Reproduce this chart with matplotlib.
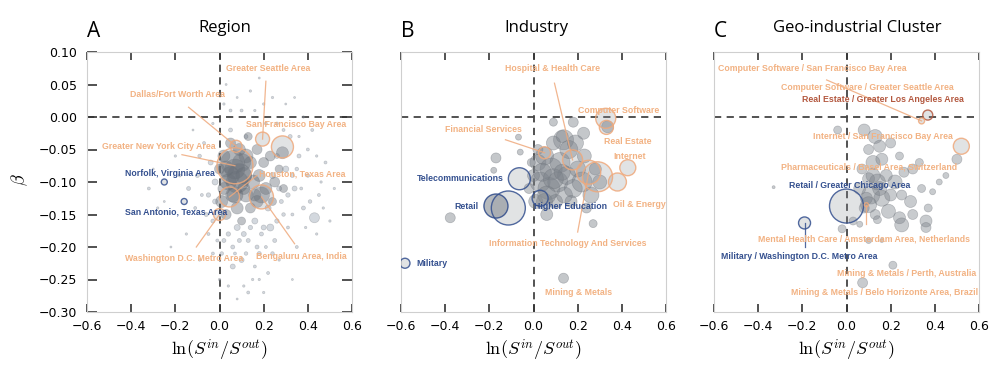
import numpy as np
import matplotlib
matplotlib.use("Agg")
import matplotlib.pyplot as plt

plt.rcParams["mathtext.fontset"] = "cm"

# ---- colours
GRAY_FC = "#8b9097"
GRAY_EC = "#70757c"
SLATE = "#8391a3"
ORANGE = "#f2b283"
ORANGE_LN = "#efa97c"
BLUE = "#34508f"
BROWN = "#b3583f"

# ---- data: (x, y, bubble radius)
# Panel A - region
region_bg = [
    (-0.32, -0.11, 1.5), (-0.28, -0.14, 1.2), (-0.20, -0.06, 1.2), (-0.12, -0.02, 1.0),
    (-0.10, -0.09, 2.0), (-0.08, -0.12, 1.5), (-0.06, -0.15, 2.0), (-0.05, -0.18, 1.5),
    (-0.04, -0.07, 2.5), (-0.03, -0.21, 1.5), (-0.02, -0.10, 3.0), (-0.02, -0.13, 2.5),
    (0.00, -0.25, 1.2), (0.02, 0.02, 1.2), (0.03, 0.05, 1.0), (0.05, -0.02, 2.0),
    (0.06, -0.20, 2.0), (0.08, -0.17, 3.0), (0.10, -0.22, 2.5), (0.10, 0.01, 1.5),
    (0.12, -0.03, 2.0), (0.13, -0.19, 2.0), (0.14, 0.04, 1.2), (0.15, -0.25, 1.2),
    (0.16, -0.16, 3.0), (0.18, -0.21, 2.0), (0.20, -0.17, 2.5), (0.22, -0.14, 3.0),
    (0.24, -0.09, 3.0), (0.25, -0.19, 2.0), (0.26, -0.06, 2.5), (0.28, -0.13, 2.0),
    (0.30, -0.08, 3.0), (0.31, -0.17, 1.5), (0.32, -0.03, 2.0), (0.34, -0.11, 2.5),
    (0.35, -0.20, 1.5), (0.36, -0.06, 2.0), (0.38, -0.14, 2.0), (0.40, -0.09, 1.8),
    (0.42, -0.02, 1.5), (0.43, -0.155, 5.0), (0.45, -0.12, 1.5), (0.48, -0.07, 1.5),
    (0.50, -0.16, 1.2), (0.52, -0.11, 1.2), (0.24, 0.03, 1.2), (0.30, 0.02, 1.0),
    (0.38, 0.00, 1.2), (0.20, -0.27, 1.2), (0.08, -0.28, 1.0), (-0.15, -0.18, 1.2),
    (-0.22, -0.20, 1.0), (0.06, -0.23, 2.5), (0.13, -0.27, 1.5), (0.22, -0.24, 1.5),
    (0.27, -0.22, 1.2), (0.33, -0.25, 1.0), (-0.07, -0.04, 1.5), (0.18, 0.06, 1.0),
    (0.26, -0.01, 1.5), (0.40, -0.05, 1.5), (0.44, -0.18, 1.2), (0.02, -0.19, 2.0),
    (0.17, -0.20, 2.0), (0.23, -0.17, 3.5), (0.11, -0.26, 1.2), (-0.09, -0.22, 1.2),
    (-0.18, -0.09, 1.5), (-0.14, -0.11, 2.0), (-0.11, -0.14, 1.5), (-0.09, -0.06, 1.8),
    (-0.05, -0.12, 2.2), (-0.03, -0.16, 2.0), (-0.01, -0.19, 1.5), (0.01, -0.21, 1.8),
    (0.04, -0.18, 2.2), (0.07, -0.21, 1.5), (0.09, -0.19, 2.0), (0.11, -0.18, 2.5),
    (0.12, -0.21, 1.8), (0.14, -0.17, 2.2), (0.16, -0.23, 1.5), (0.19, -0.18, 2.0),
    (0.21, -0.20, 1.5), (0.24, -0.21, 1.8), (0.26, -0.16, 2.2), (0.27, -0.11, 2.5),
    (0.29, -0.15, 1.8), (0.31, -0.12, 2.2), (0.33, -0.09, 2.0), (0.33, -0.15, 1.5),
    (0.35, -0.08, 1.8), (0.37, -0.11, 1.5), (0.39, -0.17, 1.2), (0.41, -0.13, 1.8),
    (0.46, -0.10, 1.2), (0.36, -0.03, 1.2), (0.29, -0.02, 1.5), (0.21, -0.01, 1.5),
    (0.16, 0.01, 1.2), (0.08, 0.03, 1.0), (0.05, 0.01, 1.5), (0.20, 0.02, 1.2),
    (-0.03, -0.01, 1.2), (0.34, 0.03, 1.0), (0.44, -0.06, 1.2), (0.47, -0.14, 1.2),
    (-0.25, -0.13, 1.0), (-0.30, -0.08, 1.0), (0.04, -0.26, 1.2), (0.18, -0.25, 1.2),
]
region_cluster = [
    (0.02, -0.06, 6), (0.04, -0.10, 8), (0.06, -0.12, 7), (0.09, -0.05, 6),
    (0.11, -0.09, 8), (0.12, -0.12, 7), (0.14, -0.07, 6), (0.15, -0.10, 7),
    (0.17, -0.05, 5), (0.18, -0.09, 6), (0.20, -0.07, 5), (0.21, -0.11, 6),
    (0.23, -0.06, 5), (0.25, -0.10, 5), (0.27, -0.08, 4), (0.29, -0.11, 4),
    (0.01, -0.13, 6), (0.03, -0.15, 5), (0.08, -0.14, 6), (0.10, -0.16, 4),
    (0.14, -0.14, 5), (0.17, -0.13, 6), (0.00, -0.08, 5), (0.05, -0.04, 5),
    (0.13, -0.03, 4), (0.07, -0.08, 10), (0.10, -0.07, 9), (0.05, -0.09, 9),
    (0.285, -0.055, 6), (0.08, -0.10, 11), (0.19, -0.12, 8), (0.24, -0.13, 4),
    (0.06, -0.07, 12), (0.09, -0.09, 12), (0.03, -0.08, 8), (0.12, -0.06, 7),
    (0.16, -0.12, 6), (0.02, -0.11, 6), (0.07, -0.12, 8), (0.11, -0.11, 6),
]
region_hl = [
    ("Greater Seattle Area", 0.195, -0.034, 7, "o"),
    ("Dallas/Fort Worth Area", 0.075, -0.045, 6, "o"),
    ("San Francisco Bay Area", 0.285, -0.046, 11, "o"),
    ("Greater New York City Area", 0.07, -0.075, 18, "o"),
    ("Houston, Texas Area", 0.045, -0.123, 10, "o"),
    ("Bengaluru Area, India", 0.19, -0.123, 12, "o"),
    ("Washington D.C. Metro Area", 0.00, -0.150, 6, "o"),
    ("Norfolk, Virginia Area", -0.25, -0.100, 3, "b"),
    ("San Antonio, Texas Area", -0.16, -0.130, 3, "b"),
]
# label (x, y), leader line start, colour key
region_lab = {
    "Greater Seattle Area": (0.03, 0.075, (0.21, 0.055), "o"),
    "Dallas/Fort Worth Area": (-0.405, 0.035, (-0.14, 0.015), "o"),
    "San Francisco Bay Area": (0.12, -0.011, None, "o"),
    "Greater New York City Area": (-0.53, -0.045, (-0.17, -0.058), "o"),
    "Norfolk, Virginia Area": (-0.43, -0.087, None, "b"),
    "Houston, Texas Area": (0.18, -0.087, (0.17, -0.09), "o"),
    "San Antonio, Texas Area": (-0.43, -0.146, None, "b"),
    "Washington D.C. Metro Area": (-0.43, -0.218, (-0.105, -0.2), "o"),
    "Bengaluru Area, India": (0.164, -0.215, (0.34, -0.195), "o"),
}

# Panel B - industry
industry_bg = [
    (0.09, -0.008, 4), (0.18, -0.008, 5), (0.227, -0.025, 6), (0.136, -0.035, 10),
    (-0.068, -0.031, 3), (-0.06, -0.054, 3), (-0.17, -0.063, 5), (-0.18, -0.082, 3),
    (-0.377, -0.155, 5), (0.27, -0.164, 4), (0.336, -0.015, 6),
    (0.02, -0.07, 8), (0.05, -0.06, 9), (0.08, -0.08, 11), (0.12, -0.07, 10),
    (0.16, -0.05, 9), (0.19, -0.04, 8), (0.03, -0.10, 10), (0.07, -0.11, 11),
    (0.11, -0.10, 10), (0.15, -0.09, 9), (0.20, -0.08, 8), (0.23, -0.06, 7),
    (0.01, -0.13, 7), (0.05, -0.13, 8), (0.10, -0.13, 7), (0.14, -0.12, 8),
    (0.18, -0.11, 9), (0.22, -0.10, 10), (0.26, -0.12, 8), (0.28, -0.08, 6),
    (0.00, -0.09, 6), (-0.02, -0.11, 5), (0.09, -0.04, 7), (0.13, -0.03, 6),
    (0.17, -0.13, 6), (0.24, -0.14, 5), (0.06, -0.15, 6), (0.02, -0.05, 5),
    (-0.01, -0.07, 4), (0.30, -0.10, 7), (-0.17, -0.137, 12), (0.136, -0.248, 5),
    (0.04, -0.085, 9), (0.09, -0.095, 10), (0.13, -0.085, 8), (0.06, -0.12, 9),
]
industry_hl = [
    ("Hospital & Health Care", 0.177, -0.066, 10, "o"),
    ("Computer Software", 0.327, -0.002, 10, "o"),
    ("Real Estate", 0.33, -0.016, 7, "o"),
    ("Financial Services", 0.05, -0.055, 6, "o"),
    ("Internet", 0.427, -0.078, 8, "o"),
    ("Oil & Energy", 0.29, -0.092, 15, "o"),
    ("Oil & Energy 2", 0.38, -0.100, 9, "o"),
    ("Information Technology And Services", 0.25, -0.085, 12, "o"),
    ("Telecommunications", -0.064, -0.095, 11, "b"),
    ("Retail", -0.114, -0.140, 17, "b"),
    ("Retail 2", -0.17, -0.137, 12, "b"),
    ("Higher Education", 0.03, -0.125, 8, "b"),
    ("Military", -0.582, -0.225, 5, "b"),
]
industry_lab = {
    "Hospital & Health Care": (-0.13, 0.075, (0.095, 0.052), "o"),
    "Computer Software": (0.20, 0.01, None, "o"),
    "Financial Services": (-0.40, -0.020, (-0.127, -0.035), "o"),
    "Real Estate": (0.32, -0.037, None, "o"),
    "Internet": (0.36, -0.061, None, "o"),
    "Telecommunications": (-0.53, -0.095, None, "b"),
    "Retail": (-0.36, -0.138, None, "b"),
    "Higher Education": (0.0, -0.138, None, "b"),
    "Oil & Energy": (0.36, -0.135, None, "o"),
    "Information Technology And Services": (-0.20, -0.195, (0.20, -0.177), "o"),
    "Military": (-0.53, -0.225, None, "b"),
    "Mining & Metals": (0.05, -0.27, None, "o"),
}

# Panel C - geo-industrial cluster
cluster_bg = [
    (0.08, -0.02, 6), (0.13, -0.03, 7), (0.10, -0.05, 5), (0.15, -0.045, 6),
    (0.20, -0.04, 5), (0.24, -0.06, 4), (0.12, -0.07, 7), (0.16, -0.065, 6),
    (0.07, -0.08, 5), (0.10, -0.095, 6), (0.14, -0.10, 8), (0.18, -0.09, 6),
    (0.22, -0.10, 7), (0.26, -0.085, 5), (0.30, -0.08, 5), (0.33, -0.07, 4),
    (0.06, -0.11, 6), (0.11, -0.12, 9), (0.16, -0.125, 8), (0.20, -0.12, 6),
    (0.25, -0.12, 5), (0.29, -0.13, 6), (0.34, -0.11, 4), (0.08, -0.14, 5),
    (0.13, -0.15, 5), (0.19, -0.145, 7), (0.24, -0.155, 6), (0.30, -0.15, 5),
    (0.36, -0.16, 6), (0.37, -0.14, 4), (0.42, -0.10, 3), (0.45, -0.09, 3),
    (0.03, -0.16, 4), (0.06, -0.165, 3), (-0.04, -0.02, 4), (-0.02, -0.172, 4),
    (0.10, -0.19, 3), (0.16, -0.19, 2), (0.25, -0.166, 7), (0.36, -0.17, 5),
    (0.14, -0.158, 4), (0.50, -0.065, 5), (-0.33, -0.108, 1.5), (0.39, -0.115, 3),
    (0.12, -0.09, 7), (0.09, -0.125, 6), (0.15, -0.11, 7), (0.10, -0.135, 8),
    (0.21, -0.228, 4), (0.073, -0.255, 5),
]
cluster_hl = [
    ("Real Estate / Greater Los Angeles Area", 0.368, 0.003, 5, "r"),
    ("Computer Software / San Francisco Bay Area", 0.34, -0.006, 3, "o"),
    ("Internet / San Francisco Bay Area", 0.52, -0.045, 8, "o"),
    ("Retail / Greater Chicago Area", 0.0, -0.137, 17, "b"),
    ("Military / Washington D.C. Metro Area", -0.19, -0.163, 6, "b"),
    ("Mental Health Care / Amsterdam Area, Netherlands", 0.09, -0.135, 2, "o"),
]
cluster_lab = {
    "Computer Software / San Francisco Bay Area": (-0.58, 0.075, (-0.09, 0.057), "o"),
    "Computer Software / Greater Seattle Area": (-0.295, 0.045, None, "o"),
    "Real Estate / Greater Los Angeles Area": (-0.20, 0.027, None, "r"),
    "Internet / San Francisco Bay Area": (-0.15, -0.030, None, "o"),
    "Pharmaceuticals / Basel Area, Switzerland": (-0.295, -0.077, None, "o"),
    "Retail / Greater Chicago Area": (-0.26, -0.105, None, "b"),
    "Mental Health Care / Amsterdam Area, Netherlands": (-0.40, -0.188, (0.09, -0.165), "o"),
    "Military / Washington D.C. Metro Area": (-0.57, -0.215, (-0.19, -0.2), "b"),
    "Mining & Metals / Perth, Australia": (-0.045, -0.240, None, "o"),
    "Mining & Metals / Belo Horizonte Area, Brazil": (-0.25, -0.270, None, "o"),
}

xticks = [-0.6, -0.4, -0.2, 0.0, 0.2, 0.4, 0.6]
yticks = [0.10, 0.05, 0.00, -0.05, -0.10, -0.15, -0.20, -0.25, -0.30]
titles = ["Region", "Industry", "Geo-industrial Cluster"]
letters = ["A", "B", "C"]

EDGE = {"o": ORANGE_LN, "b": BLUE, "r": BROWN}
TXT = {"o": ORANGE, "b": BLUE, "r": BROWN}


def size(r):
    return (1.44 * np.asarray(r, dtype=float)) ** 2


def draw_bg(ax, pts, fc, alpha):
    a = np.array(pts)
    ax.scatter(a[:, 0], a[:, 1], s=size(a[:, 2]), c=fc, alpha=alpha,
               edgecolors=GRAY_EC, linewidths=0.5, zorder=2)


def draw_hl(ax, items):
    for name, x, y, r, k in items:
        ax.scatter([x], [y], s=size(r), facecolors=GRAY_FC, alpha=0.25,
                   edgecolors="none", zorder=3)
        ax.scatter([x], [y], s=size(r), facecolors="none", alpha=0.85,
                   edgecolors=EDGE[k], linewidths=1.0, zorder=4)


def draw_labels(ax, labs, hl):
    pos = {h[0]: (h[1], h[2]) for h in hl}
    for name, (lx, ly, start, k) in labs.items():
        ax.text(lx, ly, name, color=TXT[k], fontsize=6.3, fontweight="bold",
                family="Liberation Sans", ha="left", va="center", zorder=6)
        if start is not None and name in pos:
            px, py = pos[name]
            ax.plot([start[0], px], [start[1], py], color=EDGE[k], lw=0.9,
                    alpha=0.85, zorder=5)


fig = plt.figure(figsize=(10, 3.81), dpi=100)
lefts = [87, 401, 714]
axes = []
for i, l in enumerate(lefts):
    ax = fig.add_axes([l / 1000, 69 / 381, 265 / 1000, 260 / 381])
    ax.set_xlim(-0.6, 0.6)
    ax.set_ylim(-0.30, 0.10)
    ax.set_xticks(xticks)
    ax.set_yticks(yticks)
    ax.set_xticklabels([f"{t:.1f}".replace("-", "\u2212") for t in xticks], fontsize=9)
    for s in ax.spines.values():
        s.set_color("#cfcfcf")
        s.set_linewidth(0.8)
    ax.tick_params(axis="x", direction="in", top=True, bottom=True, length=6,
                   width=1.2, color="#333333", pad=6)
    if i == 0:
        ax.set_yticklabels([f"{t:.2f}".replace("-", "\u2212") for t in yticks], fontsize=9)
        ax.tick_params(axis="y", direction="in", left=True, right=True, length=7,
                       width=1.2, color="#333333", pad=7)
    else:
        ax.tick_params(axis="y", left=False, right=False, labelleft=False)
    ax.axhline(0, color="#444444", ls=(0, (4, 3)), lw=1.3, zorder=1)
    ax.axvline(0, color="#444444", ls=(0, (4, 3)), lw=1.3, zorder=1)
    ax.text(0.5, -0.146, r"$\ln(S^{in}/S^{out})$", transform=ax.transAxes,
            ha="center", va="center", fontsize=13)
    ax.text(0.0, 1.077, letters[i], transform=ax.transAxes, ha="left",
            va="center", fontsize=15, family="Open Sans")
    ax.text([0.52, 0.51, 0.54][i], 1.092, titles[i], transform=ax.transAxes,
            ha="center", va="center", fontsize=12, family="Open Sans")
    axes.append(ax)

axA, axB, axC = axes
axA.text(-0.253, 0.51, r"$\beta$", transform=axA.transAxes, rotation=90,
         ha="center", va="center", fontsize=13)

# A
draw_bg(axA, region_bg, SLATE, 0.35)
draw_bg(axA, region_cluster, "#59616b", 0.38)
draw_hl(axA, region_hl)
draw_labels(axA, region_lab, region_hl)

# B
draw_bg(axB, industry_bg, "#7d838b", 0.45)
draw_hl(axB, industry_hl)
draw_labels(axB, industry_lab, industry_hl)

# C
draw_bg(axC, cluster_bg, "#7d838b", 0.42)
draw_hl(axC, cluster_hl)
draw_labels(axC, cluster_lab, cluster_hl)

fig.savefig("out.png", dpi=100)
